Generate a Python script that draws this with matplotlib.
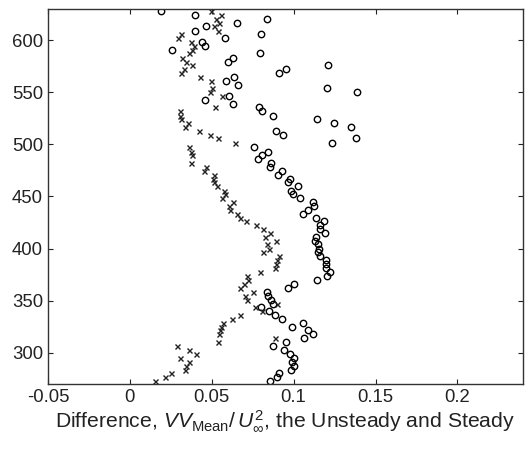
import matplotlib
matplotlib.use("Agg")
import matplotlib.pyplot as plt

plt.rcParams['font.family'] = ['Liberation Sans', 'DejaVu Sans']
plt.rcParams['mathtext.fontset'] = 'custom'
plt.rcParams['mathtext.rm'] = 'Liberation Sans'
plt.rcParams['mathtext.it'] = 'Liberation Sans:italic'

# circles (unsteady)
circ_x = [0.0193, 0.0396, 0.0654, 0.0840, 0.0398, 0.0463, 0.0584, 0.0799, 0.0260, 0.0443,
          0.0459, 0.0795, 0.0602, 0.0628, 0.1209, 0.0909, 0.0953, 0.0590, 0.0638, 0.0663,
          0.1201, 0.1384, 0.0459, 0.0604, 0.0630, 0.0787, 0.0805, 0.0872, 0.1140, 0.1246,
          0.1348, 0.0895, 0.0935, 0.1382, 0.1234, 0.0756, 0.0843, 0.0809, 0.0785, 0.0862,
          0.0854, 0.0931, 0.0907, 0.0977, 0.0963, 0.1029, 0.0984, 0.0998, 0.1038, 0.1120,
          0.1124, 0.1090, 0.1059, 0.1134, 0.1187, 0.1163, 0.1160, 0.1191, 0.1134, 0.1130,
          0.1151, 0.1152, 0.1151, 0.1159, 0.1195, 0.1195, 0.1199, 0.1220, 0.1203, 0.1142,
          0.1000, 0.0963, 0.0835, 0.0843, 0.0862, 0.0874, 0.0799, 0.0852, 0.0886, 0.0929,
          0.1055, 0.0992, 0.1087, 0.1118, 0.1065, 0.0955, 0.0874, 0.0939, 0.0976, 0.1000,
          0.0990, 0.1004, 0.0982, 0.0909, 0.0896, 0.0854]
circ_y = [628.1, 624.2, 616.8, 620.4, 609.1, 613.7, 602.4, 605.7, 590.6, 598.6,
          594.7, 587.4, 579.3, 583.2, 576.2, 568.8, 572.0, 561.1, 564.9, 557.2,
          553.8, 550.2, 542.5, 546.3, 538.9, 535.5, 531.6, 527.4, 524.2, 520.1,
          516.5, 513.0, 509.1, 506.0, 501.4, 497.0, 492.8, 489.6, 485.5, 482.2,
          478.4, 474.5, 470.7, 466.8, 463.4, 459.8, 455.7, 452.4, 448.3, 444.7,
          440.9, 437.4, 433.6, 429.7, 426.4, 422.3, 418.8, 414.9, 411.1, 407.6,
          404.0, 399.9, 396.3, 392.5, 388.7, 384.8, 381.3, 377.4, 373.3, 370.1,
          365.6, 362.0, 358.2, 354.0, 350.5, 346.6, 343.8, 339.6, 336.4, 331.9,
          328.8, 324.5, 321.3, 317.5, 313.7, 309.8, 306.0, 302.8, 298.9, 295.1,
          290.9, 287.4, 283.6, 280.3, 276.4, 272.6]

# crosses (steady)
cross_x = [0.0498, 0.0557, 0.0524, 0.0545, 0.0514, 0.0538, 0.0315, 0.0295, 0.0376, 0.0390,
           0.0382, 0.0362, 0.0319, 0.0346, 0.0382, 0.0331, 0.0311, 0.0429, 0.0498, 0.0504,
           0.0490, 0.0563, 0.0518, 0.0307, 0.0309, 0.0315, 0.0355, 0.0335, 0.0423, 0.0488,
           0.0541, 0.0640, 0.0362, 0.0372, 0.0380, 0.0376, 0.0465, 0.0451, 0.0512, 0.0508,
           0.0516, 0.0535, 0.0577, 0.0579, 0.0561, 0.0630, 0.0605, 0.0614, 0.0654, 0.0675,
           0.0712, 0.0773, 0.0813, 0.0854, 0.0823, 0.0890, 0.0840, 0.0849, 0.0813, 0.0910,
           0.0896, 0.0890, 0.0884, 0.0797, 0.0715, 0.0721, 0.0695, 0.0671, 0.0750, 0.0701,
           0.0715, 0.0896, 0.0764, 0.0807, 0.0671, 0.0622, 0.0569, 0.0559, 0.0553, 0.0545,
           0.0884, 0.0538, 0.0291, 0.0364, 0.0402, 0.0305, 0.0362, 0.0346, 0.0335, 0.0252,
           0.0212, 0.0151]
cross_y = [628.1, 624.5, 620.1, 616.8, 613.7, 609.1, 605.7, 602.4, 598.6, 594.7,
           590.6, 587.4, 583.2, 579.3, 576.2, 572.3, 568.8, 564.9, 561.1, 553.8,
           550.2, 546.3, 535.5, 531.6, 527.4, 524.2, 520.1, 516.5, 513.0, 509.1,
           506.0, 501.4, 497.0, 492.8, 489.6, 482.2, 478.4, 474.5, 470.7, 466.8,
           463.4, 459.8, 455.7, 452.4, 448.3, 444.7, 440.9, 436.7, 433.6, 429.7,
           426.4, 422.3, 418.8, 414.9, 411.1, 407.6, 404.0, 399.9, 396.3, 392.5,
           388.7, 384.8, 381.3, 377.4, 373.3, 370.1, 365.6, 362.0, 358.2, 354.0,
           350.5, 346.6, 343.8, 339.6, 336.4, 331.9, 328.8, 324.5, 321.3, 317.5,
           313.7, 309.8, 306.0, 302.8, 298.9, 295.1, 290.9, 287.4, 283.6, 280.3,
           276.4, 272.6]

xticks = [-0.05, 0, 0.05, 0.1, 0.15, 0.2]
xticklabels = ['-0.05', '0', '0.05', '0.1', '0.15', '0.2']
yticks = [300, 350, 400, 450, 500, 550, 600]

fig = plt.figure(figsize=(5.32, 4.49), dpi=100)
ax = fig.add_axes([0.090, 0.145, 0.893, 0.835])

ax.plot(circ_x, circ_y, 'o', mfc='none', mec='black', ms=4.6, mew=1.0)
ax.plot(cross_x, cross_y, 'x', color='#222222', ms=3.6, mew=1.0)

ax.set_xlim(-0.05, 0.24)
ax.set_ylim(270, 630)
ax.set_xticks(xticks)
ax.set_xticklabels(xticklabels)
ax.set_yticks(yticks)
ax.tick_params(direction='in', length=3.5, width=0.8, top=True, right=True,
               labelsize=13.3, colors='#222222', pad=3.5)
for s in ax.spines.values():
    s.set_linewidth(1.0)
    s.set_color('#333333')

ax.set_xlabel(r'Difference, $\mathit{VV}_{\mathrm{Mean}}/\,\mathit{U}_{\infty}^{2}$, the Unsteady and Steady',
              fontsize=15.2, color='#222222', labelpad=2)

fig.savefig('out.png', dpi=100)
